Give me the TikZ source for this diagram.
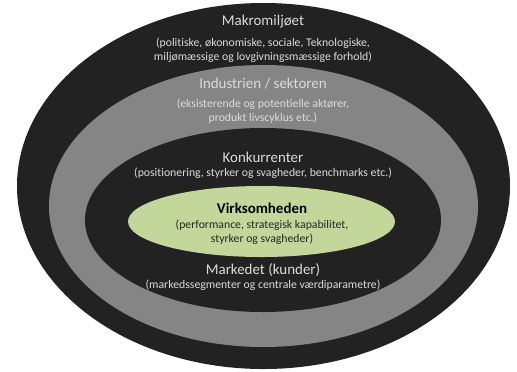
\documentclass[tikz,border=0pt]{standalone}
\usepackage{fontspec}
\setmainfont{Carlito}[Ligatures=NoCommon]
\usepackage{tikz}
\usetikzlibrary{positioning}
\usepackage{xcolor}
\definecolor{ringdark}{HTML}{222222}
\definecolor{ringgray}{HTML}{858585}
\definecolor{firmgreen}{HTML}{C4D79B}
\definecolor{lighttext}{HTML}{DCDCDC}

\tikzset{
  head/.style={font=\fontsize{15}{17}\selectfont, text=lighttext, inner sep=0pt},
  detail/.style={font=\fontsize{11.8}{14}\selectfont, text=lighttext, align=center, inner sep=0pt},
}

\begin{document}
\begin{tikzpicture}[x=1bp,y=-1bp]
  \useasboundingbox (0,0) rectangle (517,371);
  % Rings
  \fill[ringdark] (263.5,186) ellipse [x radius=246.5bp, y radius=183bp];
  \fill[ringgray] (263.5,206) ellipse [x radius=214.5bp, y radius=141bp];
  \fill[ringdark] (263,220) ellipse [x radius=178bp, y radius=92bp];
  \fill[firmgreen] (261.5,221.5) ellipse [x radius=133.5bp, y radius=35.5bp];
  %
  % Labels:
  \node[head] (makro) at (263, 22) {Makromiljøet};
  \node[detail] (makrotxt) at (263, 50) {(politiske, økonomiske, sociale, Teknologiske,\\miljømæssige og lovgivningsmæssige forhold)};
  \node[head] (industri) at (263, 84) {Industrien / sektoren};
  \node[detail] (industritxt) at (263, 111) {(eksisterende og potentielle aktører,\\produkt livscyklus etc.)};
  \node[head] (konk) at (263, 157) {Konkurrenter};
  \node[detail] (konktxt) at (263, 173) {(positionering, styrker og svagheder, benchmarks etc.)};
  \node[head, text=black, font=\fontsize{15}{17}\selectfont\bfseries] (virk) at (262, 208) {Virksomheden};
  \node[detail, text=black!85] (virktxt) at (262, 232.5) {(performance, strategisk kapabilitet,\\styrker og svagheder)};
  \node[head] (marked) at (263, 270) {Markedet (kunder)};
  \node[detail] (markedtxt) at (263, 285) {(markedssegmenter og centrale værdiparametre)};
\end{tikzpicture}
\end{document}
